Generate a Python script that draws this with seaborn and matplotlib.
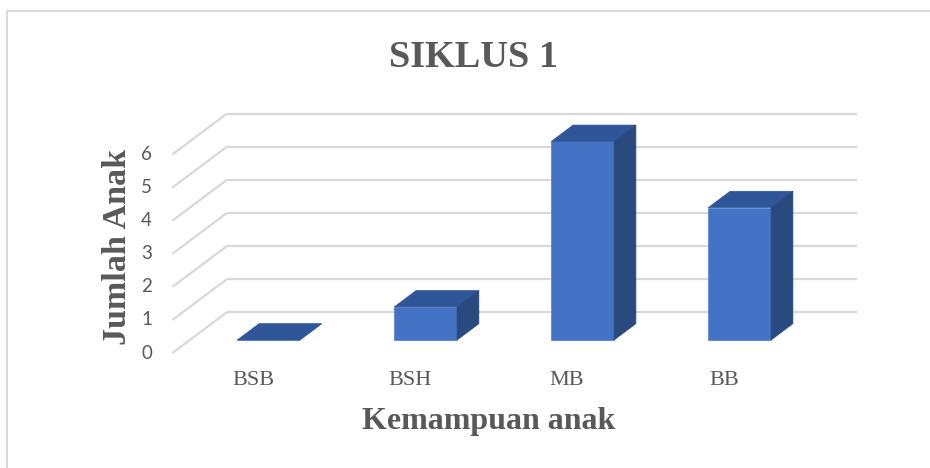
import matplotlib
matplotlib.use("Agg")
import matplotlib.pyplot as plt
import seaborn as sns
from matplotlib.patches import Polygon, Rectangle

categories = ["BSB", "BSH", "MB", "BB"]
values = [0, 1, 6, 4]
y_ticks = [0, 1, 2, 3, 4, 5, 6]

title = "SIKLUS 1"
x_title = "Kemampuan anak"
y_title = "Jumlah Anak"

FRONT = "#4472C4"
TOP = "#30569A"
SIDE = "#284A7E"
GRID = "#D9D9D9"
TEXT = "#595959"

# fake 3d: depth vector in data units, bars sit between depth F0 and F0+FB
DX, DY = 0.347, 1.233
F0, FB = 0.32, 0.40

sns.set_theme(style="white")
fig = plt.figure(figsize=(9.3, 4.68), dpi=100)
ax = fig.add_axes([0, 0, 1, 1])

sns.barplot(x=categories, y=values, color=FRONT, width=0.40, saturation=1,
            edgecolor="#5B87D2", linewidth=0.6, ax=ax, zorder=3)

ax.set_xlim(-1.711, 4.212)
ax.set_ylim(-3.867, 10.272)
ax.axis("off")

# walls: left diagonals + back horizontal lines
x_left = -0.613
x_right = 3.747
for v in y_ticks:
    yf = v - F0 * DY
    yb = yf + DY
    ax.plot([x_left, x_left + DX], [yf, yb], color=GRID, lw=1.6, zorder=1,
            solid_capstyle="butt")
    ax.plot([x_left + DX, x_right], [yb, yb], color=GRID, lw=1.6, zorder=1,
            solid_capstyle="butt")
    ax.text(-0.743, yf, str(v), ha="right", va="center", fontsize=13.5,
            color=TEXT, family=["Lato", "DejaVu Sans"])

# top and side faces of each bar
ddx, ddy = FB * DX, FB * DY
for p in ax.patches:
    x0, w, h = p.get_x(), p.get_width(), p.get_height()
    top = [(x0, h), (x0 + w, h), (x0 + w + ddx, h + ddy), (x0 + ddx, h + ddy)]
    ax.add_patch(Polygon(top, closed=True, facecolor=TOP, edgecolor=TOP,
                         lw=0.5, zorder=4))
    if h > 0:
        side = [(x0 + w, 0), (x0 + w + ddx, ddy), (x0 + w + ddx, h + ddy), (x0 + w, h)]
        ax.add_patch(Polygon(side, closed=True, facecolor=SIDE, edgecolor=SIDE,
                             lw=0.5, zorder=4))

for i, c in enumerate(categories):
    ax.text(i - 0.10, -1.21, c, ha="center", va="center", fontsize=16,
            color=TEXT, family="Liberation Serif")

fig.text(0.509, 0.878, title, ha="center", va="center", fontsize=27.5,
         fontweight="bold", color=TEXT, family="Liberation Serif")
fig.text(0.525, 0.100, x_title, ha="center", va="center", fontsize=23,
         fontweight="bold", color=TEXT, family="Liberation Serif")
fig.text(0.126, 0.472, y_title, ha="center", va="center", rotation=90,
         fontsize=24.5, fontweight="bold", color=TEXT, family="Liberation Serif")

fig.add_artist(Rectangle((0.008, -0.02), 1.05, 0.9965, transform=fig.transFigure,
                         fill=False, edgecolor=GRID, lw=1.5))

fig.savefig("out.png", dpi=100)
